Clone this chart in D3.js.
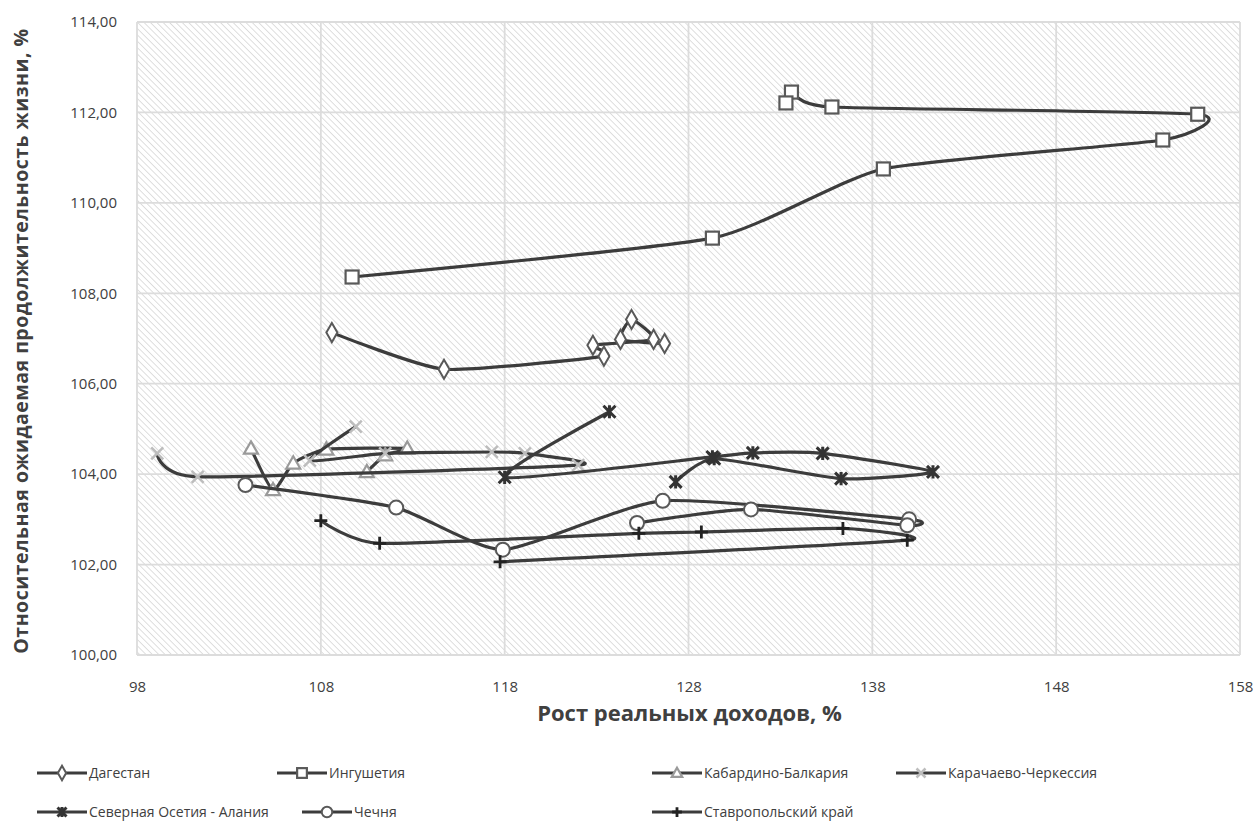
<!DOCTYPE html>
<html><head><meta charset="utf-8">
<script src="https://cdn.jsdelivr.net/npm/d3@7"></script>
<style>body{margin:0;background:#fff}svg{display:block;font-family:"Open Sans",sans-serif}</style>
</head><body><svg id="c" width="1259" height="832"></svg>
<script>
const seriesNames = ["Дагестан","Ингушетия","Кабардино-Балкария","Карачаево-Черкессия","Северная Осетия - Алания","Чечня","Ставропольский край"];
const dagestan = [[108.6,107.13],[114.7,106.32],[123.4,106.61],[122.8,106.85],[126.1,106.98],[124.9,107.42],[124.3,106.98],[126.7,106.89]];
const ingushetia = [[109.7,108.36],[129.3,109.22],[138.6,110.75],[153.8,111.39],[155.7,111.96],[135.8,112.12],[133.6,112.45],[133.3,112.21]];
const kabBalk = [[104.2,104.57],[105.4,103.65],[106.5,104.24],[108.3,104.55],[112.7,104.57],[111.5,104.42],[110.5,104.05]];
const karCherk = [[99.1,104.46],[101.3,103.94],[122.0,104.2],[119.1,104.46],[117.3,104.49],[111.5,104.46],[107.4,104.3],[109.9,105.05]];
const nOssetia = [[123.7,105.38],[118.0,103.93],[129.3,104.38],[131.5,104.47],[135.3,104.46],[141.3,104.05],[136.3,103.9],[129.4,104.34],[127.3,103.83]];
const chechnya = [[103.9,103.76],[112.1,103.26],[117.9,102.33],[126.6,103.41],[140.0,103.0],[139.9,102.87],[131.4,103.22],[125.2,102.92]];
const stavropol = [[108.0,102.97],[111.2,102.47],[125.3,102.69],[128.7,102.72],[136.4,102.8],[139.9,102.54],[117.75,102.06]];
const xTicks = [98,108,118,128,138,148,158];
const yTicks = [100,102,104,106,108,110,112,114];
const xTitle = "Рост реальных доходов, %";
const yTitle = "Относительная ожидаемая продолжительность жизни, %";

const allSeries = [dagestan, ingushetia, kabBalk, karCherk, nOssetia, chechnya, stavropol];
const markerKinds = ["diamond","square","triangle","x","star","circle","plus"];

const svg = d3.select("#c");
const L=137,R=1240,T=22,B=655;
const x = d3.scaleLinear().domain([98,158]).range([L,R]);
const y = d3.scaleLinear().domain([100,114]).range([B,T]);

const defs = svg.append("defs");
const pat = defs.append("pattern").attr("id","hatch").attr("patternUnits","userSpaceOnUse")
  .attr("width",4.5).attr("height",4.5).attr("patternTransform","rotate(-45)");
pat.append("rect").attr("width",4.5).attr("height",4.5).attr("fill","#fff");
pat.append("line").attr("x1",0).attr("y1",0).attr("x2",0).attr("y2",4.5).attr("stroke","#c9c9c9").attr("stroke-width",1.2);
svg.append("rect").attr("x",L).attr("y",T).attr("width",R-L).attr("height",B-T).attr("fill","url(#hatch)");

// grid
svg.append("g").selectAll("line").data(yTicks).join("line")
  .attr("x1",L).attr("x2",R).attr("y1",d=>y(d)).attr("y2",d=>y(d)).attr("stroke","#dcdcdc").attr("stroke-width",1.8);
svg.append("g").selectAll("line").data(xTicks).join("line")
  .attr("y1",T).attr("y2",B).attr("x1",d=>x(d)).attr("x2",d=>x(d)).attr("stroke","#dcdcdc").attr("stroke-width",1.8);

// axes
const fmt = d=>d3.format(".2f")(d).replace(".",",");
const ya = svg.append("g").attr("transform",`translate(${L},0)`).call(d3.axisLeft(y).tickValues(yTicks).tickFormat(fmt).tickSize(0).tickPadding(20));
const xa = svg.append("g").attr("transform",`translate(0,${B})`).call(d3.axisBottom(x).tickValues(xTicks).tickFormat(d3.format("d")).tickSize(0).tickPadding(26));
[ya,xa].forEach(a=>{a.select(".domain").remove();a.selectAll("text").attr("font-size",15).attr("fill","#404040").attr("font-family","Open Sans");});

svg.append("text").attr("x",(L+R)/2+1).attr("y",721).attr("text-anchor","middle").attr("font-size",22).attr("font-weight","bold").attr("fill","#404040").text(xTitle);
svg.append("text").attr("transform","translate(28,341) rotate(-90)").attr("text-anchor","middle").attr("font-size",19.5).attr("letter-spacing",0.5).attr("font-weight","bold").attr("fill","#404040").text(yTitle);

function drawMarker(g, kind, cx, cy, scale){
  const s = scale||1;
  if(kind==="diamond"){
    g.append("path").attr("d",d3.symbol(d3.symbolDiamond, 105*s*s)()).attr("transform",`translate(${cx},${cy})`).attr("fill","#fff").attr("stroke","#595959").attr("stroke-width",2);
  } else if(kind==="square"){
    g.append("rect").attr("x",cx-6.5*s).attr("y",cy-6.5*s).attr("width",13*s).attr("height",13*s).attr("fill","#fff").attr("stroke","#595959").attr("stroke-width",2.2);
  } else if(kind==="triangle"){
    const h=7*s; g.append("path").attr("d",`M${cx},${cy-h}L${cx+h},${cy+h*0.75}L${cx-h},${cy+h*0.75}Z`).attr("fill","#fff").attr("stroke","#9a9a9a").attr("stroke-width",2.2);
  } else if(kind==="x"){
    const h=6*s; g.append("path").attr("d",`M${cx-h},${cy-h}L${cx+h},${cy+h}M${cx-h},${cy+h}L${cx+h},${cy-h}`).attr("stroke","#bdbdbd").attr("stroke-width",2.5);
  } else if(kind==="star"){
    const h=6*s; g.append("path").attr("d",`M${cx-h},${cy-h}L${cx+h},${cy+h}M${cx-h},${cy+h}L${cx+h},${cy-h}M${cx},${cy-h*1.1}L${cx},${cy+h*1.1}`).attr("stroke","#333").attr("stroke-width",3);
  } else if(kind==="circle"){
    g.append("circle").attr("cx",cx).attr("cy",cy).attr("r",7*s).attr("fill","#fff").attr("stroke","#595959").attr("stroke-width",2);
  } else if(kind==="plus"){
    const h=6.5*s; g.append("path").attr("d",`M${cx-h},${cy}L${cx+h},${cy}M${cx},${cy-h}L${cx},${cy+h}`).attr("stroke","#222").attr("stroke-width",2.8);
  }
}

const line = d3.line().x(d=>x(d[0])).y(d=>y(d[1])).curve(d3.curveCardinal.tension(0.45));
allSeries.forEach((data,i)=>{
  const g = svg.append("g");
  g.append("path").attr("d",line(data)).attr("fill","none").attr("stroke","#3c3c3c").attr("stroke-width",3.2);
  data.forEach(d=>drawMarker(g, markerKinds[i], x(d[0]), y(d[1])));
});

// legend
const legendPos = [[37,773],[277,773],[652,773],[896,773],[37,812],[302,812],[652,812]];
seriesNames.forEach((n,i)=>{
  const [lx,ly] = legendPos[i];
  const g = svg.append("g");
  g.append("line").attr("x1",lx).attr("x2",lx+50).attr("y1",ly).attr("y2",ly).attr("stroke","#3c3c3c").attr("stroke-width",3.2);
  drawMarker(g, markerKinds[i], lx+25, ly, 0.75);
  g.append("text").attr("x",lx+52).attr("y",ly+5).attr("font-size",14).attr("fill","#404040").text(n);
});
</script></body></html>
